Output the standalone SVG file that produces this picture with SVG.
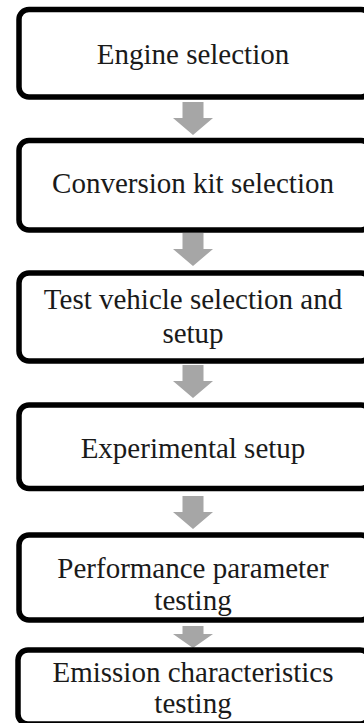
<svg xmlns="http://www.w3.org/2000/svg" width="364" height="723" viewBox="0 0 364 723">
<defs>
<style>
.box{fill:#fff;stroke:#000;stroke-width:5.5}
.t{font-family:"Liberation Serif","Times New Roman",serif;font-size:29px;fill:#1a1a1a;text-anchor:middle}
.ar{fill:#a6a6a6}
</style>
<path id="arr" d="M-10.5,0 H10.5 V16 H20 L0,33 L-20,16 H-10.5 Z"/>
</defs>
<rect width="364" height="723" fill="#fff"/>
<g id="connectors" class="ar">
<use href="#arr" x="193" y="102"/>
<use href="#arr" x="193" y="233"/>
<use href="#arr" x="193" y="365"/>
<use href="#arr" x="193" y="496"/>
<path d="M182.5,626 H203.5 V634 H213 L193,648 L173,634 H182.5 Z"/>
</g>
<g id="n1"><rect class="box" x="19" y="9.5" width="352" height="87.5" rx="10"/><text class="t" x="193" y="64">Engine selection</text></g>
<g id="n2"><rect class="box" x="19" y="140.5" width="352" height="89.5" rx="10"/><text class="t" x="193" y="193">Conversion kit selection</text></g>
<g id="n3"><rect class="box" x="19" y="273" width="352" height="88" rx="10"/><text class="t" x="193" y="309">Test vehicle selection and</text><text class="t" x="193" y="343">setup</text></g>
<g id="n4"><rect class="box" x="19" y="405" width="352" height="83.5" rx="10"/><text class="t" x="193" y="458">Experimental setup</text></g>
<g id="n5"><rect class="box" x="19" y="535" width="352" height="85" rx="10"/><text class="t" x="193" y="578">Performance parameter</text><text class="t" x="193" y="610">testing</text></g>
<g id="n6"><rect class="box" x="18" y="650" width="352" height="74" rx="10"/><text class="t" x="193" y="682">Emission characteristics</text><text class="t" x="193" y="713">testing</text></g>
</svg>
